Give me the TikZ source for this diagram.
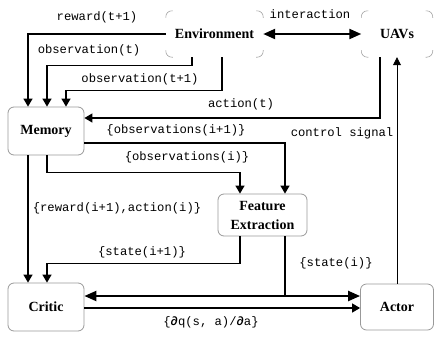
\documentclass[tikz,border=0pt]{standalone}
\usepackage{fontspec}
\setmainfont{Liberation Serif}
\setmonofont{Liberation Mono}
\usetikzlibrary{arrows.meta}

% corner arcs only, for the outer (environment side) boxes
\newcommand{\cornermarks}[1]{%
  \draw[cornerline] (#1.north west) ++(0,7) |- ++(7,-7);
  \draw[cornerline] (#1.north east) ++(-7,0) -| ++(7,7);
  \draw[cornerline] (#1.south east) ++(0,-7) |- ++(-7,7);
  \draw[cornerline] (#1.south west) ++(7,0) -| ++(-7,-7);
}

\begin{document}
\begin{tikzpicture}[x=1pt,y=-1pt,
    box/.style={draw=gray!80, line width=0.8pt, rounded corners=6pt, align=center,
      font=\fontsize{14}{19}\selectfont\bfseries},
    cloud/.style={inner sep=0pt, font=\fontsize{14}{19}\selectfont\bfseries},
    cornerline/.style={gray!70, line width=0.6pt, rounded corners=6pt},
    conn/.style={line width=1.3pt, -{Triangle[length=8pt,width=9pt]}},
    thinconn/.style={line width=0.8pt, -{Triangle[length=8pt,width=8pt]}},
    bigconn/.style={line width=2.2pt, {Triangle[length=12pt,width=10pt]}-{Triangle[length=12pt,width=10pt]}},
    lbl/.style={inner sep=1pt, font=\ttfamily\fontsize{12.2}{14}\selectfont}]

    \useasboundingbox (0,0) rectangle (434,338);

    % boxes
    \node[cloud, minimum width=97pt, minimum height=46pt] (env) at (214.5,34) {Environment};
    \node[cloud, minimum width=71pt, minimum height=46pt] (uav) at (397,34) {UAVs};
    \cornermarks{env}
    \cornermarks{uav}

    \node[box, minimum width=76pt, minimum height=48pt] (mem)  at (46,131)    {Memory};
    \node[box, minimum width=89pt, minimum height=42pt] (feat) at (262.5,215) {Feature\\Extraction};
    \node[box, minimum width=76pt, minimum height=48pt] (crit) at (46,307)    {Critic};
    \node[box, minimum width=73pt, minimum height=46pt] (act)  at (397,307)   {Actor};

    \coordinate (jn) at (285,296);

    % connectors
    \draw[bigconn] (env.east) -- (uav.west);
    \draw[conn] (env.west) -| ([xshift=-18pt]mem.north);
    \draw[conn] ([xshift=-22.5pt]env.south) -- ++(0,8) -| ([xshift=1pt]mem.north);
    \draw[conn] ([xshift=7.5pt]env.south) -- ++(0,33) -| ([xshift=20pt]mem.north);
    \draw[conn] ([xshift=-17pt]uav.south) |- ([yshift=13pt]mem.east);
    \draw[conn] ([yshift=-12pt]mem.east) -| ([xshift=22.5pt]feat.north);
    \draw[conn] ([xshift=1pt]mem.south) -- ++(0,17) -| ([xshift=-22.5pt]feat.north);
    \draw[conn] ([xshift=-18pt]mem.south) -- ([xshift=-18pt]crit.north);
    \draw[conn] ([xshift=-22.5pt]feat.south) -- ++(0,27) -| ([xshift=1pt]crit.north);
    \draw[line width=1.3pt] (feat.south -| jn) -- (jn);
    \draw[bigconn] ([yshift=11pt]crit.east) -- ([yshift=11pt]act.west);
    \draw[conn] ([yshift=-1pt]crit.east) -- ([yshift=-1pt]act.west);
    \draw[thinconn] (act.north) -- (uav.south);

    % labels
    \node[lbl] (lint)   at (310,14)  {interaction};
    \node[lbl] (lrew)   at (97,17)   {reward(t+1)};
    \node[lbl] (lobs)   at (89,50)   {observation(t)};
    \node[lbl] (lobs1)  at (140,79)  {observation(t+1)};
    \node[lbl] (lact)   at (241,104) {action(t)};
    \node[lbl] (lobsi1) at (176,130) {\{observations(i+1)\}};
    \node[lbl] (lctrl)  at (342,133) {control signal};
    \node[lbl] (lobsi)  at (187,157) {\{observations(i)\}};
    \node[lbl] (lrewi)  at (117,208) {\{reward(i+1),action(i)\}};
    \node[lbl] (lsti1)  at (142,252) {\{state(i+1)\}};
    \node[lbl] (lsti)   at (336,263) {\{state(i)\}};
    \node[lbl] (ldq)    at (211,322) {\{\textbf{∂}q(s, a)/\textbf{∂}a\}};
\end{tikzpicture}
\end{document}
